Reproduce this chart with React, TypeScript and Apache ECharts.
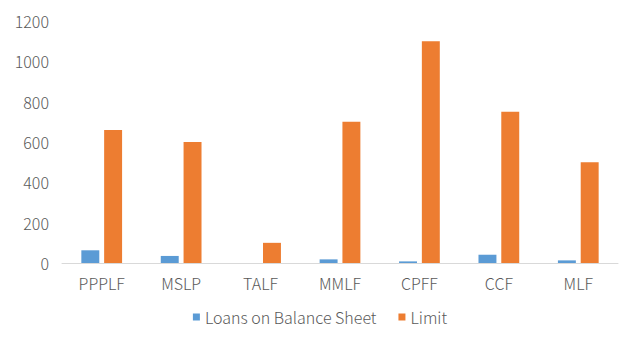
import React, { useEffect, useRef } from "react";
import * as echarts from "echarts";

const categories = ["PPPLF", "MSLP", "TALF", "MMLF", "CPFF", "CCF", "MLF"];
const loansOnBalanceSheet = [63, 35, 0, 18, 8, 41, 13];
const limit = [659, 600, 100, 700, 1100, 750, 500];
const yTicks = [0, 200, 400, 600, 800, 1000, 1200];

const FONT = "'Noto Sans CJK SC', 'Noto Sans', sans-serif";
const TEXT = "#595959";
const WEIGHT = 300;

export default function App() {
  const ref = useRef<HTMLDivElement>(null);
  useEffect(() => {
    if (!ref.current) return;
    const chart = echarts.init(ref.current, undefined, { renderer: "svg" });
    chart.setOption({
      animation: false,
      backgroundColor: "#ffffff",
      textStyle: { fontFamily: FONT, fontWeight: WEIGHT },
      grid: { left: 62, right: 22, top: 21, bottom: 81, containLabel: false },
      legend: {
        bottom: 14,
        left: "center",
        itemWidth: 7,
        itemHeight: 7,
        itemGap: 22,
        icon: "rect",
        textStyle: { color: TEXT, fontSize: 16, fontFamily: FONT, fontWeight: WEIGHT },
        data: ["Loans on Balance Sheet", "Limit"],
      },
      xAxis: {
        type: "category",
        data: categories,
        axisLine: { lineStyle: { color: "#D9D9D9", width: 1 } },
        axisTick: { show: false },
        axisLabel: { color: TEXT, fontSize: 16, margin: 12, fontFamily: FONT, fontWeight: WEIGHT },
      },
      yAxis: {
        type: "value",
        min: yTicks[0],
        max: yTicks[yTicks.length - 1],
        interval: 200,
        splitLine: { show: false },
        axisLine: { show: false },
        axisTick: { show: false },
        axisLabel: {
          color: TEXT,
          fontSize: 16,
          margin: 13,
          fontFamily: FONT,
          fontWeight: WEIGHT,
          formatter: (v: number) => String(v),
        },
      },
      series: [
        {
          name: "Loans on Balance Sheet",
          type: "bar",
          data: loansOnBalanceSheet,
          barWidth: "22.6%",
          barGap: "27%",
          itemStyle: { color: "#5B9BD5" },
        },
        {
          name: "Limit",
          type: "bar",
          data: limit,
          barWidth: "22.6%",
          itemStyle: { color: "#ED7D31" },
        },
      ],
    });
    return () => chart.dispose();
  }, []);
  return <div ref={ref} style={{ width: 640, height: 344, margin: -8 }} />;
}
